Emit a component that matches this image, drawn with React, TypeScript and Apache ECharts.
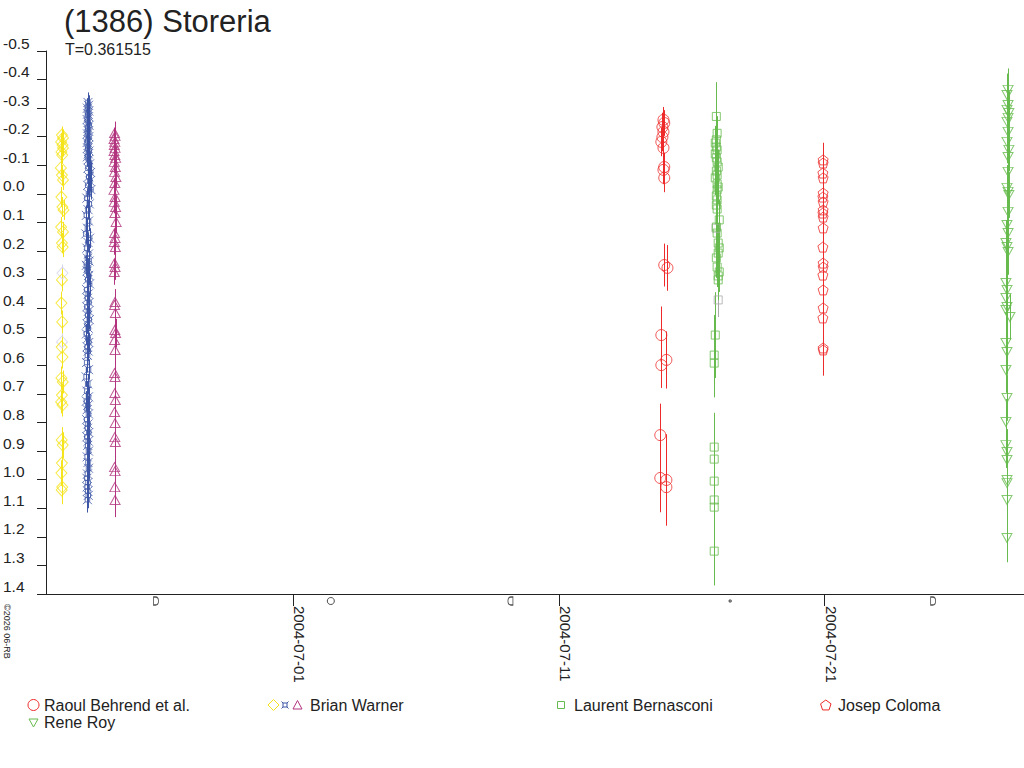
import React, { useEffect, useRef } from "react";
import * as echarts from "echarts";

// ---------- data (x = days since 2004-07-01 00:00 UT, y = relative magnitude, e = error) ----------
const observers = ["Raoul Behrend et al.", "Brian Warner", "Laurent Bernasconi", "Josep Coloma", "Rene Roy"];
const titleText = "(1386) Storeria";
const periodText = "T=0.361515";
const copyrightText = "©2026 06-RB";

const xTickDays = [0, 10, 20];
const xTickLabels = ["2004-07-01", "2004-07-11", "2004-07-21"];

// moon phases: first quarter, full, last quarter, new, first quarter
const moonDays = [-5.16, 1.42, 8.18, 16.45, 24.09];
const moonKinds = ["fq", "full", "lq", "new", "fq"];

const warnerYellow: number[][] = [
  [-8.70, -0.206, 0.03], [-8.66, -0.196, 0.03], [-8.73, -0.182, 0.03], [-8.68, -0.171, 0.03],
  [-8.66, -0.161, 0.03], [-8.72, -0.147, 0.03], [-8.69, -0.136, 0.03], [-8.74, -0.091, 0.035],
  [-8.70, -0.066, 0.035], [-8.66, -0.049, 0.035], [-8.72, 0.011, 0.035], [-8.68, 0.046, 0.035],
  [-8.64, 0.056, 0.035], [-8.73, 0.116, 0.035], [-8.66, 0.133, 0.035], [-8.70, 0.172, 0.035],
  [-8.67, 0.186, 0.035], [-8.70, 0.301, 0.04], [-8.72, 0.382, 0.04], [-8.69, 0.448, 0.04],
  [-8.71, 0.536, 0.04], [-8.68, 0.571, 0.04], [-8.72, 0.644, 0.04], [-8.67, 0.658, 0.04],
  [-8.70, 0.704, 0.04], [-8.73, 0.728, 0.04], [-8.68, 0.739, 0.04], [-8.71, 0.861, 0.045],
  [-8.67, 0.879, 0.045], [-8.70, 0.942, 0.045], [-8.72, 0.977, 0.045], [-8.69, 1.026, 0.05],
  [-8.71, 1.036, 0.05],
];
const warnerFaint: number[][] = [[-8.68, 0.277, 0.03], [-8.70, 0.518, 0.03]];

const warnerBlue: number[][] = [
  [-7.72, -0.32, 0.035], [-7.70, -0.31, 0.035], [-7.74, -0.30, 0.035], [-7.69, -0.29, 0.035],
  [-7.73, -0.28, 0.035], [-7.70, -0.27, 0.035], [-7.75, -0.26, 0.035], [-7.71, -0.25, 0.035],
  [-7.68, -0.24, 0.035], [-7.73, -0.23, 0.035], [-7.70, -0.22, 0.035], [-7.74, -0.21, 0.035],
  [-7.69, -0.20, 0.035], [-7.72, -0.19, 0.035], [-7.75, -0.18, 0.035], [-7.70, -0.17, 0.035],
  [-7.73, -0.16, 0.035], [-7.68, -0.15, 0.035], [-7.71, -0.14, 0.035], [-7.74, -0.13, 0.035],
  [-7.70, -0.12, 0.035], [-7.66, -0.105, 0.035], [-7.72, -0.09, 0.035], [-7.62, -0.075, 0.035],
  [-7.69, -0.06, 0.035], [-7.65, -0.045, 0.035], [-7.73, -0.03, 0.035], [-7.61, -0.015, 0.035],
  [-7.70, 0.0, 0.035], [-7.76, 0.015, 0.035], [-7.67, 0.035, 0.035], [-7.72, 0.055, 0.035],
  [-7.78, 0.075, 0.035], [-7.70, 0.095, 0.035], [-7.74, 0.12, 0.035], [-7.80, 0.14, 0.035],
  [-7.66, 0.155, 0.035], [-7.72, 0.17, 0.035], [-7.76, 0.19, 0.035], [-7.70, 0.21, 0.035],
  [-7.74, 0.225, 0.035], [-7.68, 0.235, 0.035], [-7.78, 0.25, 0.035], [-7.72, 0.26, 0.035],
  [-7.75, 0.27, 0.035], [-7.69, 0.285, 0.035], [-7.73, 0.30, 0.035], [-7.66, 0.315, 0.035],
  [-7.77, 0.335, 0.035], [-7.71, 0.35, 0.035], [-7.74, 0.365, 0.035], [-7.68, 0.38, 0.035],
  [-7.76, 0.395, 0.035], [-7.70, 0.41, 0.035], [-7.73, 0.425, 0.035], [-7.67, 0.44, 0.035],
  [-7.75, 0.455, 0.035], [-7.71, 0.47, 0.035], [-7.78, 0.49, 0.035], [-7.72, 0.505, 0.035],
  [-7.69, 0.52, 0.035], [-7.75, 0.535, 0.035], [-7.71, 0.55, 0.035], [-7.74, 0.565, 0.035],
  [-7.77, 0.59, 0.035], [-7.70, 0.615, 0.035], [-7.79, 0.64, 0.035], [-7.73, 0.665, 0.035],
  [-7.76, 0.69, 0.035], [-7.70, 0.71, 0.035], [-7.78, 0.725, 0.035], [-7.73, 0.74, 0.035],
  [-7.75, 0.755, 0.035], [-7.70, 0.77, 0.035], [-7.77, 0.79, 0.035], [-7.72, 0.805, 0.035],
  [-7.74, 0.82, 0.035], [-7.69, 0.835, 0.035], [-7.76, 0.85, 0.035], [-7.71, 0.865, 0.035],
  [-7.73, 0.88, 0.035], [-7.70, 0.90, 0.04], [-7.75, 0.92, 0.04], [-7.72, 0.94, 0.04],
  [-7.70, 0.96, 0.04], [-7.74, 0.98, 0.04], [-7.76, 0.995, 0.04], [-7.72, 1.01, 0.04],
  [-7.75, 1.025, 0.04], [-7.73, 1.04, 0.045], [-7.71, 1.055, 0.045], [-7.74, 1.07, 0.045],
];

const warnerMagenta: number[][] = [
  [-6.72, -0.213, 0.04], [-6.70, -0.203, 0.04], [-6.74, -0.192, 0.04], [-6.71, -0.182, 0.04],
  [-6.73, -0.171, 0.04], [-6.70, -0.161, 0.04], [-6.74, -0.150, 0.04], [-6.71, -0.136, 0.04],
  [-6.68, -0.126, 0.04], [-6.73, -0.112, 0.04], [-6.69, -0.094, 0.04], [-6.72, -0.077, 0.04],
  [-6.67, -0.059, 0.04], [-6.71, -0.038, 0.04], [-6.74, -0.014, 0.04], [-6.70, 0.011, 0.04],
  [-6.73, 0.028, 0.04], [-6.68, 0.046, 0.04], [-6.71, 0.067, 0.04], [-6.66, 0.098, 0.04],
  [-6.72, 0.137, 0.045], [-6.70, 0.154, 0.045], [-6.73, 0.168, 0.045], [-6.69, 0.186, 0.045],
  [-6.72, 0.242, 0.045], [-6.70, 0.256, 0.045], [-6.73, 0.273, 0.045], [-6.70, 0.378, 0.045],
  [-6.72, 0.389, 0.045], [-6.69, 0.417, 0.045], [-6.71, 0.476, 0.05], [-6.68, 0.487, 0.05],
  [-6.72, 0.511, 0.05], [-6.70, 0.546, 0.05], [-6.72, 0.627, 0.05], [-6.70, 0.641, 0.05],
  [-6.71, 0.697, 0.05], [-6.69, 0.721, 0.05], [-6.72, 0.763, 0.05], [-6.70, 0.802, 0.05],
  [-6.71, 0.851, 0.055], [-6.69, 0.868, 0.055], [-6.72, 0.956, 0.055], [-6.70, 0.970, 0.055],
  [-6.71, 1.026, 0.06], [-6.70, 1.071, 0.06],
];

const behrend: number[][] = [
  [13.94, -0.259, 0.045], [13.97, -0.248, 0.045], [13.90, -0.234, 0.05], [13.94, -0.217, 0.05],
  [13.90, -0.199, 0.05], [13.86, -0.182, 0.05], [13.94, -0.161, 0.05], [13.97, -0.094, 0.05],
  [13.94, -0.084, 0.05], [13.97, -0.056, 0.05], [13.97, 0.249, 0.075], [14.09, 0.259, 0.08],
  [13.86, 0.494, 0.1], [14.05, 0.581, 0.1], [13.86, 0.599, 0.08], [13.82, 0.844, 0.11],
  [13.82, 0.994, 0.12], [14.05, 1.001, 0.16], [14.05, 1.026, 0.12],
];

const bernasconi: number[][] = [
  [15.93, -0.271, 0.12], [15.96, -0.212, 0.06], [15.93, -0.189, 0.06], [15.89, -0.178, 0.06],
  [15.93, -0.164, 0.06], [15.96, -0.154, 0.06], [15.89, -0.140, 0.06], [15.93, -0.126, 0.06],
  [15.96, -0.112, 0.06], [16.00, -0.094, 0.06], [15.93, -0.080, 0.06], [15.96, -0.066, 0.06],
  [15.89, -0.056, 0.06], [15.96, -0.035, 0.06], [16.00, -0.024, 0.06], [15.96, -0.014, 0.06],
  [15.93, 0.007, 0.07], [15.96, 0.021, 0.07], [15.93, 0.039, 0.07], [15.96, 0.053, 0.07],
  [16.04, 0.091, 0.07], [15.93, 0.116, 0.07], [15.96, 0.137, 0.07], [16.00, 0.172, 0.07],
  [16.04, 0.189, 0.07], [16.00, 0.207, 0.07], [15.93, 0.224, 0.07], [15.96, 0.256, 0.07],
  [16.04, 0.273, 0.07], [16.00, 0.287, 0.07], [16.00, 0.301, 0.07], [15.89, 0.494, 0.15],
  [15.85, 0.564, 0.14], [15.85, 0.592, 0.12], [15.85, 0.886, 0.12], [15.85, 0.928, 0.13],
  [15.85, 1.005, 0.12], [15.85, 1.071, 0.12], [15.85, 1.096, 0.12], [15.85, 1.250, 0.12],
];
const bernasconiFaint: number[][] = [[16.00, 0.371, 0.06], [15.92, 0.12, 0.05]];

const coloma: number[][] = [
  [19.95, -0.119, 0.06], [19.95, -0.108, 0.06], [19.94, -0.073, 0.06], [19.95, -0.056, 0.06],
  [19.95, -0.003, 0.06], [19.94, 0.011, 0.06], [19.95, 0.028, 0.06], [19.95, 0.056, 0.06],
  [19.94, 0.067, 0.06], [19.95, 0.081, 0.06], [19.95, 0.119, 0.07], [19.94, 0.186, 0.07],
  [19.95, 0.242, 0.07], [19.95, 0.256, 0.07], [19.94, 0.284, 0.07], [19.95, 0.336, 0.08],
  [19.95, 0.399, 0.08], [19.94, 0.434, 0.08], [19.95, 0.539, 0.09], [19.95, 0.546, 0.09],
];

const roy: number[][] = [
  [26.91, -0.364, 0.075], [26.87, -0.346, 0.075], [26.91, -0.311, 0.075], [26.87, -0.294, 0.075],
  [26.94, -0.283, 0.075], [26.91, -0.266, 0.075], [26.87, -0.252, 0.075], [26.91, -0.217, 0.075],
  [26.87, -0.182, 0.075], [26.94, -0.154, 0.075], [26.91, -0.129, 0.075], [26.91, -0.077, 0.075],
  [26.87, -0.021, 0.08], [26.91, -0.007, 0.08], [26.94, 0.004, 0.08], [26.91, 0.063, 0.08],
  [26.87, 0.109, 0.08], [26.91, 0.137, 0.08], [26.83, 0.172, 0.08], [26.87, 0.186, 0.08],
  [26.91, 0.203, 0.08], [26.83, 0.312, 0.08], [26.87, 0.336, 0.08], [26.83, 0.364, 0.08],
  [26.87, 0.396, 0.08], [26.83, 0.406, 0.08], [26.98, 0.431, 0.08], [26.83, 0.522, 0.08],
  [26.87, 0.553, 0.08], [26.83, 0.616, 0.08], [26.87, 0.714, 0.08], [26.83, 0.798, 0.08],
  [26.83, 0.879, 0.08], [26.87, 0.903, 0.08], [26.87, 0.931, 0.08], [26.87, 1.001, 0.08],
  [26.87, 1.012, 0.08], [26.87, 1.071, 0.08], [26.87, 1.204, 0.085],
];

// ---------- styling ----------
const FONT = '"Liberation Sans", Arial, Helvetica, sans-serif';
const RED = "#ee2a2a";
const GREEN = "#67bb4e";
const YELLOW = "#f5e31c";
const BLUE = "#3c55a5";
const MAGENTA = "#b2347e";
const TEXT = "#222222";

const STAR_PATH =
  "path://M2.5 2.5 H7.5 V7.5 H2.5 Z M0 0 L2.5 2.5 M10 0 L7.5 2.5 M0 10 L2.5 7.5 M10 10 L7.5 7.5";
const PENTAGON_PATH = "path://M5 0 L10 3.6 L8.1 9.5 L1.9 9.5 L0 3.6 Z";
const MOON_SYMBOLS: Record<string, string> = {
  fq: "path://M0 0 H2 C6 0 6 8 2 8 H0 Z",
  lq: "path://M5 0 H3 C-1 0 -1 8 3 8 H5 Z",
  full: "path://M3 0 C7 0 7 8 3 8 C-1 8 -1 0 3 0 Z",
  new: "path://M0 0 H2 V2 H0 Z",
};
const MOON_SIZES: Record<string, number[]> = { fq: [5, 8], lq: [5, 8], full: [7, 7], new: [2, 2] };

const X_MIN = -9.3;
const X_MAX = 27.51;
const LABEL_SHIFT = 0.25;

function groupSeries(
  data: number[][],
  color: string,
  symbol: string,
  size: number | number[],
  rotate = 0
): any[] {
  return [
    {
      type: "custom",
      silent: true,
      z: 2,
      encode: { x: 0, y: 1 },
      data,
      renderItem: (_p: any, api: any) => {
        const x = api.value(0);
        const m = api.value(1);
        const e = api.value(2);
        const a = api.coord([x, m - e]);
        const b = api.coord([x, m + e]);
        const px = Math.round(a[0]) + 0.5;
        return {
          type: "line",
          shape: { x1: px, y1: a[1], x2: px, y2: b[1] },
          style: { stroke: color, lineWidth: 1 },
        };
      },
    },
    {
      type: "scatter",
      silent: true,
      z: 3,
      data: data.map((d) => [d[0], d[1]]),
      symbol,
      symbolSize: size,
      symbolRotate: rotate,
      itemStyle: { color: "rgba(0,0,0,0)", borderColor: color, borderWidth: 1 },
    },
  ];
}

function pentagonPoints(cx: number, cy: number, r: number): number[][] {
  const pts: number[][] = [];
  for (let i = 0; i < 5; i++) {
    const a = -Math.PI / 2 + (i * 2 * Math.PI) / 5;
    pts.push([cx + r * Math.cos(a), cy + r * Math.sin(a)]);
  }
  return pts;
}

function legendGraphics(): any[] {
  const ts = (text: string, x: number, y: number) => ({
    type: "text",
    x,
    y,
    style: { text, fill: TEXT, font: `16px ${FONT}`, verticalAlign: "middle", align: "left" },
  });
  const stroke = (c: string) => ({ fill: "none", stroke: c, lineWidth: 1 });
  const r1 = 705;
  const r2 = 722;
  return [
    { type: "circle", shape: { cx: 33.5, cy: r1, r: 5.5 }, style: stroke(RED) },
    ts(observers[0], 44, r1),
    {
      type: "polygon",
      shape: { points: [[273.5, r1 - 5.5], [279, r1], [273.5, r1 + 5.5], [268, r1]] },
      style: stroke(YELLOW),
    },
    { type: "rect", shape: { x: 283, y: r1 - 2, width: 4, height: 4 }, style: stroke(BLUE) },
    { type: "line", shape: { x1: 281.5, y1: r1 - 3.5, x2: 283, y2: r1 - 2 }, style: stroke(BLUE) },
    { type: "line", shape: { x1: 288.5, y1: r1 - 3.5, x2: 287, y2: r1 - 2 }, style: stroke(BLUE) },
    { type: "line", shape: { x1: 281.5, y1: r1 + 3.5, x2: 283, y2: r1 + 2 }, style: stroke(BLUE) },
    { type: "line", shape: { x1: 288.5, y1: r1 + 3.5, x2: 287, y2: r1 + 2 }, style: stroke(BLUE) },
    {
      type: "polygon",
      shape: { points: [[297.5, r1 - 4.5], [302, r1 + 4], [293, r1 + 4]] },
      style: stroke(MAGENTA),
    },
    ts(observers[1], 310, r1),
    { type: "rect", shape: { x: 557.5, y: r1 - 3.5, width: 7, height: 7 }, style: stroke(GREEN) },
    ts(observers[2], 574, r1),
    { type: "polygon", shape: { points: pentagonPoints(825.8, r1 + 0.5, 5.5) }, style: stroke(RED) },
    ts(observers[3], 838, r1),
    {
      type: "polygon",
      shape: { points: [[29, r2 - 3], [38, r2 - 3], [33.5, r2 + 5]] },
      style: stroke(GREEN),
    },
    ts(observers[4], 44, r2),
  ];
}

export default function App() {
  const ref = useRef<HTMLDivElement>(null);

  useEffect(() => {
    if (!ref.current) return;
    const chart = echarts.init(ref.current, null, { renderer: "svg" });

    const series: any[] = [
      ...groupSeries(warnerFaint, "#d4d4ec", "diamond", [11, 12]),
      ...groupSeries(warnerYellow, YELLOW, "diamond", [11, 12]),
      ...groupSeries(warnerBlue, BLUE, STAR_PATH, 9),
      ...groupSeries(warnerMagenta, MAGENTA, "triangle", [10, 9]),
      ...groupSeries(behrend, RED, "circle", 11),
      ...groupSeries(bernasconiFaint, "#aaaaaa", "rect", 8),
      ...groupSeries(bernasconi, GREEN, "rect", 8),
      ...groupSeries(coloma, RED, PENTAGON_PATH, [10, 10]),
      ...groupSeries(roy, GREEN, "triangle", [10, 9], 180),
      {
        type: "scatter",
        silent: true,
        clip: false,
        z: 4,
        data: moonDays.map((d, i) => ({
          value: [d, 1.4],
          symbol: MOON_SYMBOLS[moonKinds[i]],
          symbolSize: MOON_SIZES[moonKinds[i]],
        })),
        symbolOffset: [0, 7],
        itemStyle: { color: "rgba(0,0,0,0)", borderColor: TEXT, borderWidth: 1 },
      },
    ];

    chart.setOption({
      animation: false,
      backgroundColor: "#ffffff",
      textStyle: { fontFamily: FONT },
      grid: { left: 45, top: 51, right: 0, bottom: 174, containLabel: false },
      xAxis: {
        type: "value",
        min: X_MIN,
        max: X_MAX,
        axisLine: { show: true, onZero: false, lineStyle: { color: TEXT, width: 1 } },
        axisTick: { show: true, length: 12, customValues: xTickDays, lineStyle: { color: TEXT } },
        axisLabel: {
          show: true,
          customValues: xTickDays.map((d) => d + LABEL_SHIFT),
          rotate: -90,
          margin: 12,
          fontSize: 15,
          fontFamily: FONT,
          color: TEXT,
          formatter: (v: number) => {
            const i = xTickDays.indexOf(Math.round(v - LABEL_SHIFT));
            return i >= 0 ? xTickLabels[i] : "";
          },
        },
        splitLine: { show: false },
      },
      yAxis: {
        type: "value",
        inverse: true,
        min: -0.5,
        max: 1.4,
        interval: 0.1,
        axisLine: { show: true, onZero: false, lineStyle: { color: TEXT, width: 1 } },
        axisTick: { show: true, length: 9, lineStyle: { color: TEXT } },
        axisLabel: {
          show: true,
          align: "left",
          verticalAlign: "bottom",
          margin: 43,
          fontSize: 15.5,
          fontFamily: FONT,
          color: TEXT,
          showMinLabel: true,
          showMaxLabel: true,
          formatter: (v: number) => v.toFixed(1),
        },
        splitLine: { show: false },
      },
      graphic: [
        {
          type: "text",
          x: 64,
          y: 21,
          style: { text: titleText, fill: TEXT, font: `31px ${FONT}`, verticalAlign: "middle" },
        },
        {
          type: "text",
          x: 65,
          y: 49,
          style: { text: periodText, fill: TEXT, font: `16px ${FONT}`, verticalAlign: "middle" },
        },
        {
          type: "text",
          x: 11,
          y: 604,
          rotation: -Math.PI / 2,
          style: { text: copyrightText, fill: TEXT, font: `9px ${FONT}`, verticalAlign: "top", align: "left" },
        },
        ...legendGraphics(),
      ],
      series,
    });

    return () => chart.dispose();
  }, []);

  return (
    <div
      ref={ref}
      style={{ position: "absolute", left: 0, top: 0, width: 1024, height: 768, background: "#fff" }}
    />
  );
}
